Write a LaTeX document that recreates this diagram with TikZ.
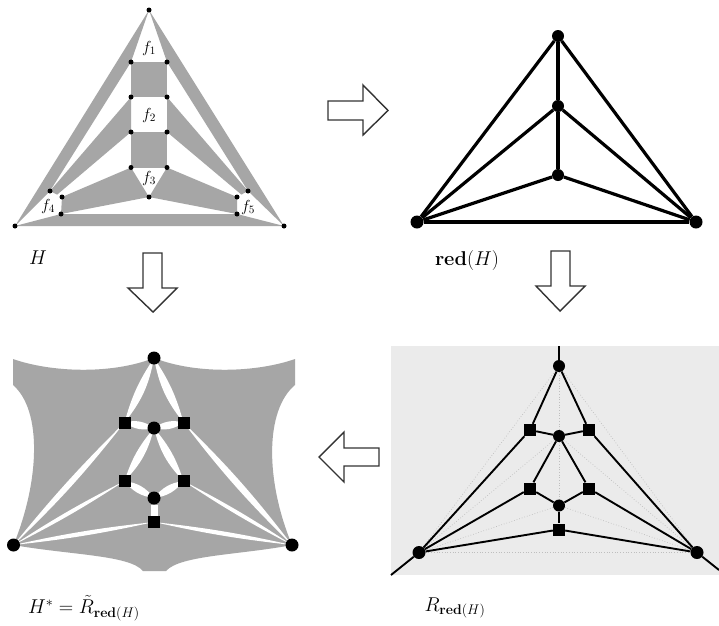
\documentclass[tikz,border=0pt]{standalone}
\usepackage{fix-cm}
\usetikzlibrary{backgrounds,calc}
\definecolor{shade}{HTML}{A6A6A6}
\definecolor{panel}{HTML}{EBEBEB}
\definecolor{faint}{HTML}{BEBEBE}
\tikzset{
  tiny dot/.style={circle,fill=black,inner sep=0pt,minimum size=5pt},
  big dot/.style={circle,fill=black,inner sep=0pt,minimum size=13pt},
  sq dot/.style={rectangle,fill=black,inner sep=0pt,minimum size=12pt},
  plain label/.style={inner sep=0pt,font=\fontsize{20}{24}\selectfont},
  face label/.style={inner sep=0pt,font=\fontsize{16}{19}\selectfont},
  block arrow/.style={draw=black!80,line width=1.4pt,fill=white,line join=miter},
  region/.style={fill=shade},
  thick edge/.style={line width=3.2pt},
  mid edge/.style={line width=1.9pt},
  guide/.style={draw=faint,line width=0.7pt,dotted},
  lens/.style={fill=white},
  white bar/.style={draw=white,line width=7pt}
}
\newcommand{\lensp}[4]{\fill[lens] (#1.center) to[bend left=#3] (#2.center) to[bend left=#4] (#1.center);}
\begin{document}
\begin{tikzpicture}[x=1pt,y=-1pt]
\useasboundingbox (0,0) rectangle (719,625);
% panel H
\node[tiny dot] (Ht) at (149,10) {};
\node[tiny dot] (Hl) at (15,226) {};
\node[tiny dot] (Hr) at (284,226) {};
\node[tiny dot] (a1) at (131,62) {};
\node[tiny dot] (a2) at (167,62) {};
\node[tiny dot] (b1) at (131,97) {};
\node[tiny dot] (b2) at (167,97) {};
\node[tiny dot] (c1) at (131,132) {};
\node[tiny dot] (c2) at (167,132) {};
\node[tiny dot] (d1) at (131,167.5) {};
\node[tiny dot] (d2) at (167,167.5) {};
\node[tiny dot] (e) at (149,197) {};
\node[tiny dot] (g1) at (50,191) {};
\node[tiny dot] (g2) at (62,197) {};
\node[tiny dot] (g3) at (61,214) {};
\node[tiny dot] (h1) at (248,191) {};
\node[tiny dot] (h2) at (237,197) {};
\node[tiny dot] (h3) at (237,214) {};
\node[face label] (f1) at (149,48) {$f_1$};
\node[face label] (f2) at (149,115) {$f_2$};
\node[face label] (f3) at (149,178) {$f_3$};
\node[face label] (f4) at (48,206) {$f_4$};
\node[face label] (f5) at (248,207) {$f_5$};
\node[plain label] (lH) at (38,258) {$H$};
% panel red(H)
\node[big dot,minimum size=12pt] (Rt) at (558,36) {};
\node[big dot,minimum size=12pt] (Rm) at (558,106) {};
\node[big dot,minimum size=12pt] (Rb) at (558,175) {};
\node[big dot] (Rl) at (417,222) {};
\node[big dot] (Rr) at (696,222) {};
\node[plain label] (lred) at (467,260) {$\mathbf{red}(H)$};
% panel R
\node[big dot,minimum size=12pt] (St) at (559,366) {};
\node[sq dot] (Sa) at (530,430) {};
\node[sq dot] (Sb) at (589,430) {};
\node[big dot,minimum size=12pt] (Sc) at (559,436) {};
\node[sq dot] (Sd) at (530,488.5) {};
\node[sq dot] (Se) at (589,488.5) {};
\node[big dot,minimum size=12pt] (So) at (559,505.5) {};
\node[sq dot] (Sf) at (559,529.5) {};
\node[big dot] (Sl) at (419,552.5) {};
\node[big dot] (Sr) at (697,552.5) {};
\coordinate (Sup) at (559,346);
\coordinate (Sdl) at (391,575);
\coordinate (Sdr) at (719,570);
\node[plain label] (lR) at (455,608) {$R_{\mathbf{red}(H)}$};
% panel H*
\node[big dot] (Tt) at (154,358) {};
\node[sq dot] (Ta) at (124.5,422.5) {};
\node[sq dot] (Tb) at (183.5,422.5) {};
\node[big dot] (Tc) at (154,428) {};
\node[sq dot] (Td) at (124.5,481) {};
\node[sq dot] (Te) at (183.5,481) {};
\node[big dot] (To) at (154,498) {};
\node[sq dot] (Tf) at (154,522) {};
\node[big dot] (Tl) at (13.5,545) {};
\node[big dot] (Tr) at (292,545) {};
\node[plain label] (lT) at (84,608) {$H^{*}=\tilde{R}_{\mathbf{red}(H)}$};
% block arrows
\draw[block arrow] (328,101) -- (363,101) -- (363,85) -- (388,110.5) -- (363,135) -- (363,120) -- (328,120) -- cycle;
\draw[block arrow] (143,253) -- (162,253) -- (162,288) -- (177,288) -- (153,312) -- (128,288) -- (143,288) -- cycle;
\draw[block arrow] (551,251) -- (570,251) -- (570,286) -- (585,286) -- (560,311) -- (536,286) -- (551,286) -- cycle;
\draw[block arrow] (379,448) -- (344,448) -- (344,432) -- (319,457) -- (344,482) -- (344,466) -- (379,466) -- cycle;
\begin{scope}[on background layer]
\fill[white] (0,0) rectangle (719,625);
% H regions
\fill[region] (Ht.center) -- (Hl.center) -- (g1.center) -- (a1.center) -- cycle;
\fill[region] (Ht.center) -- (Hr.center) -- (h1.center) -- (a2.center) -- cycle;
\fill[region] (a1.center) -- (a2.center) -- (b2.center) -- (b1.center) -- cycle;
\fill[region] (c1.center) -- (c2.center) -- (d2.center) -- (d1.center) -- cycle;
\fill[region] (b1.center) -- (c1.center) -- ($(g1.center)!0.6!(g2.center)$) -- (g1.center) -- cycle;
\fill[region] (b2.center) -- (c2.center) -- ($(h1.center)!0.6!(h2.center)$) -- (h1.center) -- cycle;
\fill[region] (d1.center) -- (e.center) -- (g3.center) -- (g2.center) -- cycle;
\fill[region] (d2.center) -- (e.center) -- (h3.center) -- (h2.center) -- cycle;
\fill[region] (g3.center) -- (h3.center) -- (Hr.center) -- (Hl.center) -- cycle;
% red(H) edges
\draw[thick edge] (Rt) -- (Rl);
\draw[thick edge] (Rt) -- (Rr);
\draw[thick edge] (Rt) -- (Rm);
\draw[thick edge] (Rm) -- (Rb);
\draw[thick edge] (Rm) -- (Rl);
\draw[thick edge] (Rm) -- (Rr);
\draw[thick edge] (Rb) -- (Rl);
\draw[thick edge] (Rb) -- (Rr);
\draw[thick edge] (Rl) -- (Rr);
% R panel
\fill[panel] (391,346) rectangle (719,575);
\draw[guide] (St) -- (Sl);
\draw[guide] (St) -- (Sr);
\draw[guide] (St) -- (Sc);
\draw[guide] (Sc) -- (So);
\draw[guide] (Sc) -- (Sl);
\draw[guide] (Sc) -- (Sr);
\draw[guide] (So) -- (Sl);
\draw[guide] (So) -- (Sr);
\draw[guide] (Sl) -- (Sr);
\draw[mid edge] (Sup) -- (St);
\draw[mid edge] (Sdl) -- (Sl);
\draw[mid edge] (Sdr) -- (Sr);
\draw[mid edge] (St) -- (Sa);
\draw[mid edge] (St) -- (Sb);
\draw[mid edge] (Sa) -- (Sc);
\draw[mid edge] (Sb) -- (Sc);
\draw[mid edge] (Sa) -- (Sl);
\draw[mid edge] (Sb) -- (Sr);
\draw[mid edge] (Sc) -- (Sd);
\draw[mid edge] (Sc) -- (Se);
\draw[mid edge] (Sd) -- (So);
\draw[mid edge] (Se) -- (So);
\draw[mid edge] (Sd) -- (Sl);
\draw[mid edge] (Se) -- (Sr);
\draw[mid edge] (So) -- (Sf);
\draw[mid edge] (Sf) -- (Sl);
\draw[mid edge] (Sf) -- (Sr);
% H* region
\fill[region] (13,359) .. controls (50,372) and (110,375) .. (Tt.center)
  .. controls (198,375) and (258,372) .. (295,359) -- (295,385)
  .. controls (265,410) and (265,480) .. (Tr.center)
  .. controls (240,555) and (180,555) .. (166,571) -- (143,571)
  .. controls (130,555) and (70,555) .. (Tl.center)
  .. controls (40,480) and (42,410) .. (13,385) -- cycle;
% white lenses
\lensp{Tt}{Ta}{14}{9}
\lensp{Tt}{Tb}{9}{14}
\lensp{Ta}{Tc}{25}{25}
\lensp{Tb}{Tc}{25}{25}
\lensp{Tc}{Td}{15}{11}
\lensp{Tc}{Te}{11}{15}
\lensp{Td}{To}{22}{22}
\lensp{Te}{To}{22}{22}
\draw[white bar] (To) -- (Tf);
\lensp{Ta}{Tl}{4}{3}
\lensp{Td}{Tl}{3}{3}
\lensp{Tf}{Tl}{3}{3}
\lensp{Tf}{Tr}{3}{3}
\lensp{Te}{Tr}{3}{3}
\lensp{Tb}{Tr}{4}{4}
\end{scope}
\end{tikzpicture}
\end{document}
